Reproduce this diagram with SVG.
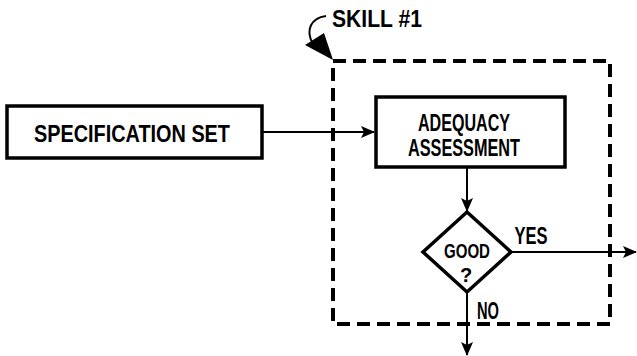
<svg xmlns="http://www.w3.org/2000/svg" width="637" height="356" viewBox="0 0 637 356">
<style>
.box{fill:#fff;stroke:#000;stroke-width:3.5}
.ln{fill:none;stroke:#000;stroke-width:2}
.t{font-family:"Liberation Sans",Arial,sans-serif;font-weight:bold;font-size:23px;fill:#000;text-anchor:middle}
.s{font-size:20px}
</style>
<defs>
<marker id="ah" viewBox="0 0 14 12" refX="13" refY="6" markerWidth="14" markerHeight="12" markerUnits="userSpaceOnUse" orient="auto">
<path d="M0,0 L14,6 L0,12 L3,6 Z" fill="#000"/>
</marker>
</defs>
<rect width="637" height="356" fill="#fff"/>
<g id="skill-boundary">
<rect x="333" y="61" width="277" height="263" fill="none" stroke="#000" stroke-width="4" stroke-dasharray="13,7"/>
</g>
<g id="skill-label">
<text class="t" x="377" y="27" textLength="90" lengthAdjust="spacingAndGlyphs">SKILL #1</text>
<path class="ln" d="M326,16 C311,18 305,30 313,44" stroke-width="3.5"/>
<path d="M305,45 L333,60 L324,33 Z" fill="#000"/>
</g>
<g id="connectors">
<line class="ln" x1="263" y1="132" x2="374" y2="132" marker-end="url(#ah)"/>
<line class="ln" x1="467" y1="167" x2="467" y2="211" marker-end="url(#ah)"/>
<line class="ln" x1="512" y1="252" x2="636" y2="252" marker-end="url(#ah)"/>
<line class="ln" x1="467" y1="292" x2="467" y2="355" marker-end="url(#ah)"/>
</g>
<g id="specification-set">
<rect class="box" x="7" y="106" width="255" height="52"/>
<text class="t" x="132" y="142" textLength="196" lengthAdjust="spacingAndGlyphs">SPECIFICATION SET</text>
</g>
<g id="adequacy-assessment">
<rect class="box" x="376" y="97" width="189" height="70"/>
<text class="t" x="464" y="131" textLength="92" lengthAdjust="spacingAndGlyphs">ADEQUACY</text>
<text class="t" x="464" y="156" textLength="112" lengthAdjust="spacingAndGlyphs">ASSESSMENT</text>
</g>
<g id="good-decision">
<polygon class="box" points="467,212 511,252 467,292 423,252"/>
<text class="t s" x="467" y="258" textLength="46" lengthAdjust="spacingAndGlyphs">GOOD</text>
<text class="t s" x="466" y="282">?</text>
</g>
<g id="labels">
<text class="t" x="531" y="244" textLength="33" lengthAdjust="spacingAndGlyphs">YES</text>
<text class="t" x="488" y="319" textLength="22" lengthAdjust="spacingAndGlyphs">NO</text>
</g>
</svg>
